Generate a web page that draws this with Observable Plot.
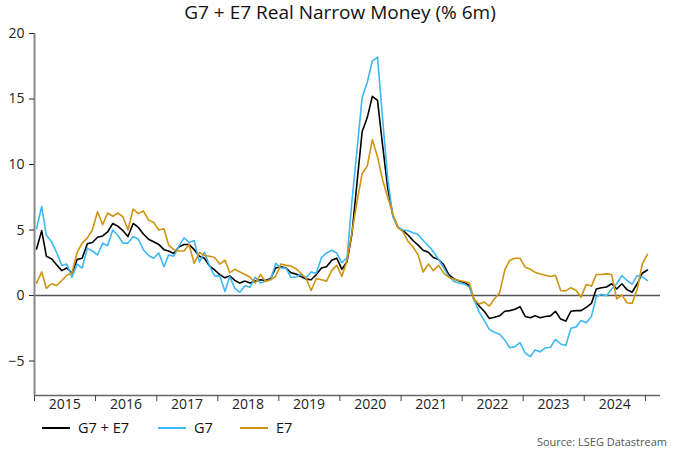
<!DOCTYPE html>
<html>
<head>
<meta charset="utf-8">
<script src="https://cdn.jsdelivr.net/npm/d3@7"></script>
<script src="https://cdn.jsdelivr.net/npm/@observablehq/plot@0.6"></script>
<style>
  body { margin: 0; background: #fff; font-family: "Open Sans", sans-serif; }
  #wrap { width: 680px; position: relative; }
  #title { height: 22px; line-height: 24px; text-align: center; font-size: 19px; color: #111; }
  #chart svg { display: block; }
  #legend { position: relative; height: 38px; font-size: 14.5px; color: #111; }
  .item { position: absolute; top: 1px; display: flex; align-items: center; }
  .swatch { width: 28px; height: 0; border-top: 2px solid; margin-right: 8px; }
  #source { position: absolute; right: 13px; top: 17px; font-size: 11px; color: #555; }
</style>
</head>
<body>
<div id="wrap">
  <div id="title"></div>
  <div id="chart"></div>
  <div id="legend"></div>
</div>
<script>
const title = "G7 + E7 Real Narrow Money (% 6m)";
const source = "Source: LSEG Datastream";
const startMonth = "2015-01";
const seriesNames = ["G7 + E7", "G7", "E7"];
const seriesColors = ["#000000", "#3db8f5", "#cf9312"];

// monthly values, Jan 2015 .. Jan 2025
const g7e7 = [
  3.55, 4.95, 3.0, 2.8, 2.35, 1.9, 2.1, 1.7, 2.75, 2.85, 3.95, 4.05,
  4.45, 4.55, 4.85, 5.5, 5.3, 4.95, 4.5, 5.5, 5.2, 4.7, 4.3, 4.1,
  3.9, 3.5, 3.4, 3.2, 3.7, 3.9, 3.9, 3.5, 3.0, 2.85, 2.25, 1.95,
  1.6, 1.35, 1.5, 1.15, 0.95, 1.1, 0.95, 1.1, 1.2, 1.15, 1.3, 2.1,
  2.2, 2.1, 1.75, 1.65, 1.45, 1.25, 1.2, 1.6, 2.1, 2.2, 2.7, 2.85,
  2.0, 2.6, 4.7, 8.7, 12.5, 13.6, 15.2, 14.9, 11.4, 8.2, 6.1, 5.2,
  4.95, 4.6, 4.2, 3.85, 3.45, 3.3, 2.9, 2.75, 2.35, 1.6, 1.27, 1.12,
  1.0, 0.76, -0.3, -0.8, -1.2, -1.75, -1.65, -1.55, -1.2, -1.15, -1.05, -0.85,
  -1.6, -1.7, -1.55, -1.7, -1.6, -1.55, -1.2, -1.8, -1.95, -1.2, -1.15, -1.15,
  -0.9, -0.6, 0.5, 0.6, 0.65, 0.9, 0.5, 0.9, 0.45, 0.25, 0.9, 1.7,
  1.95
];
const g7 = [
  5.1, 6.8, 4.6, 4.1, 3.3, 2.3, 2.4, 1.4, 2.4, 2.1, 3.6, 3.4,
  3.1, 4.0, 3.8, 5.0, 4.6, 4.0, 4.0, 4.5, 4.3, 3.5, 3.05, 2.85,
  3.25, 2.2, 3.1, 3.0, 3.75, 4.4, 4.05, 4.2, 2.55, 3.3, 2.25, 1.5,
  1.5, 0.3, 1.45, 0.55, 0.25, 0.75, 0.63, 1.4, 0.95, 1.1, 1.2, 2.45,
  2.1, 2.1, 1.4, 1.4, 1.65, 1.35, 1.8, 1.7, 2.9, 3.25, 3.45, 3.25,
  2.5, 2.9, 7.2, 11.2, 15.1, 16.3, 17.9, 18.2, 13.4, 8.9, 6.0, 5.2,
  5.0, 4.95, 4.8, 4.65, 4.2, 3.8, 3.35, 2.75, 2.1, 1.45, 1.07, 0.95,
  0.89, 0.64, -0.33, -1.27, -1.9, -2.6, -2.8, -2.95, -3.4, -3.99, -3.9, -3.6,
  -4.4, -4.66, -4.15, -4.3, -4.0, -3.95, -3.35, -3.7, -3.82, -2.5, -2.4, -1.9,
  -2.07, -1.6, -0.1, 0.1, -0.02, 0.5, 0.9, 1.53, 1.15, 0.87, 1.53, 1.42,
  1.15
];
const e7 = [
  0.95, 1.8, 0.55, 0.9, 0.76, 1.15, 1.55, 1.72, 3.3, 4.0, 4.4, 5.0,
  6.4, 5.4, 6.3, 6.05, 6.3, 6.0, 5.0, 6.6, 6.25, 6.45, 5.75, 5.6,
  5.0, 5.1, 3.85, 3.5, 3.4, 3.4, 3.9, 2.45, 3.3, 3.05, 3.0, 2.9,
  2.4, 2.7, 1.75, 2.0, 1.8, 1.6, 1.4, 0.95, 1.6, 1.07, 1.2, 1.45,
  2.4, 2.3, 2.25, 2.05, 1.7, 1.3, 0.38, 1.3, 1.2, 1.1, 1.9, 2.3,
  1.45, 2.7, 4.8, 7.2, 9.3, 9.9, 11.9, 10.6, 8.8, 7.5, 6.2, 5.2,
  4.85, 4.1, 3.7, 3.1, 1.8, 2.4, 1.9, 2.3, 1.7, 1.4, 1.25, 1.15,
  1.07, 0.95, -0.3, -0.65, -0.5, -0.8, -0.25, 0.2, 1.95, 2.7, 2.85, 2.85,
  2.15, 2.0, 1.78, 1.65, 1.55, 1.45, 1.55, 0.38, 0.35, 0.6, 0.4, -0.13,
  0.85, 0.72, 1.6, 1.6, 1.65, 1.6, -0.25, 0.05, -0.55, -0.6, 0.5, 2.4,
  3.15
];
const yTicks = [-5, 0, 5, 10, 15, 20];
const yDomain = [-7.63, 20];
const yearLabels = [2015, 2016, 2017, 2018, 2019, 2020, 2021, 2022, 2023, 2024];
const xEnd = "2025-04-01";

// build table
const parseMonth = d3.utcParse("%Y-%m");
const start = parseMonth(startMonth);
const dateAt = i => d3.utcDay.offset(d3.utcMonth.offset(start, i), 12);
const seriesValues = [g7e7, g7, e7];
const rows = [];
seriesValues.forEach((vals, s) => vals.forEach((v, i) => rows.push({series: seriesNames[s], date: dateAt(i), value: v})));

const xDomain = [start, new Date(xEnd)];
const yearStarts = d3.range(yearLabels[0], yearLabels[yearLabels.length - 1] + 2).map(y => new Date(Date.UTC(y, 0, 1)));
const yearMids = yearLabels.map(y => new Date(Date.UTC(y, 6, 1)));

document.getElementById("title").textContent = title;

const chart = Plot.plot({
  width: 680,
  height: 395,
  marginTop: 11,
  marginLeft: 34,
  marginRight: 20,
  marginBottom: 22,
  style: {fontFamily: "'Open Sans', sans-serif", fontSize: "14px", color: "#222", background: "#fff"},
  x: {type: "utc", domain: xDomain},
  y: {domain: yDomain},
  color: {domain: seriesNames, range: seriesColors},
  marks: [
    Plot.ruleY([0], {stroke: "#555", strokeWidth: 1.5}),
    Plot.ruleY([yDomain[0]], {stroke: "#666", strokeWidth: 1.5}),
    Plot.ruleX([xDomain[0]], {stroke: "#888", strokeWidth: 2}),
    Plot.axisY({ticks: yTicks, tickSize: 5, tickPadding: 5, label: null, stroke: "#222"}),
    Plot.axisX({ticks: yearStarts, tickSize: 6, tickFormat: () => "", label: null, stroke: "#444"}),
    Plot.axisX({ticks: yearMids, tickSize: 0, tickPadding: 4, tickFormat: d => String(d.getUTCFullYear()), label: null}),
    Plot.lineY(rows, {x: "date", y: "value", z: "series", stroke: "series", strokeWidth: 1.6})
  ]
});
document.getElementById("chart").appendChild(chart);

const legend = document.getElementById("legend");
const legendLeft = [42, 158, 240];
seriesNames.forEach((name, i) => {
  const item = document.createElement("div");
  item.className = "item";
  item.style.left = legendLeft[i] + "px";
  const sw = document.createElement("span");
  sw.className = "swatch";
  sw.style.borderTopColor = seriesColors[i];
  const label = document.createElement("span");
  label.textContent = name;
  item.appendChild(sw);
  item.appendChild(label);
  legend.appendChild(item);
});
const src = document.createElement("div");
src.id = "source";
src.textContent = source;
legend.appendChild(src);
</script>
</body>
</html>
